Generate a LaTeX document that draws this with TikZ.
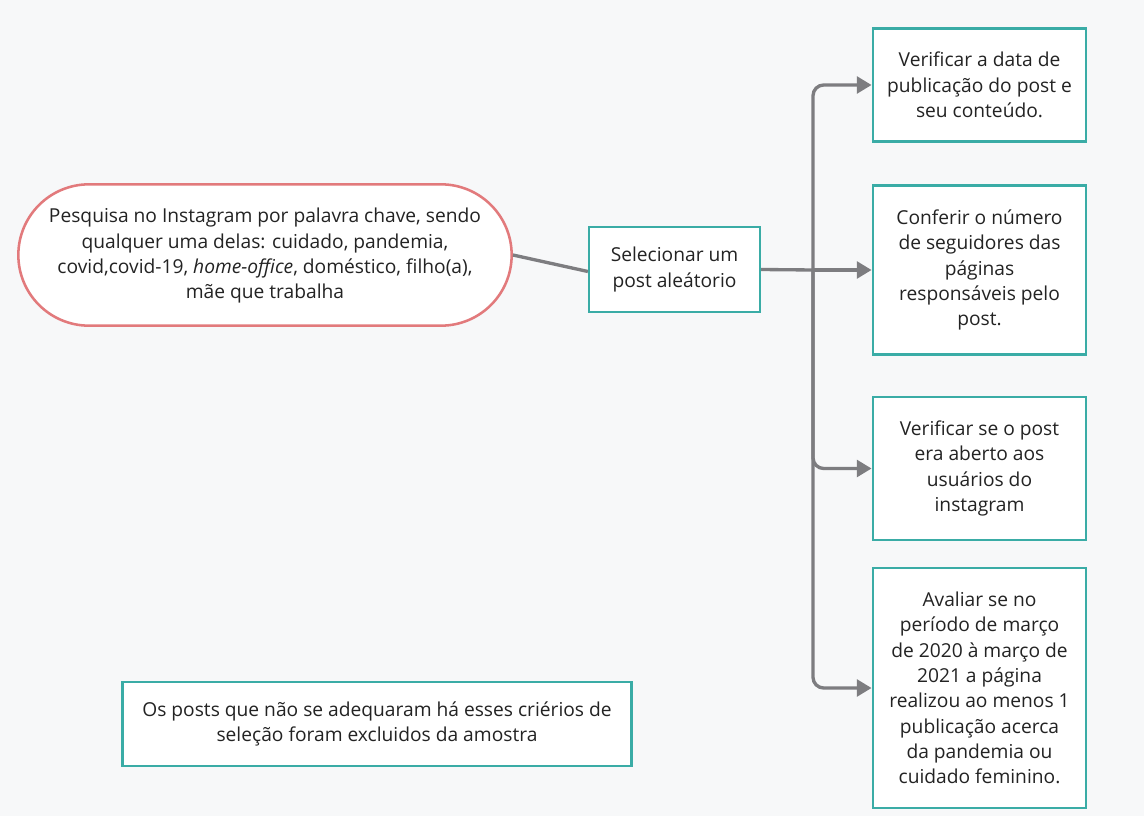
\documentclass[tikz,border=0pt]{standalone}
\usepackage{fontspec}
\setmainfont{Open Sans}
\usetikzlibrary{arrows.meta}
\definecolor{bgc}{RGB}{247,248,249}
\definecolor{teal1}{RGB}{58,172,166}
\definecolor{red1}{RGB}{226,122,124}
\definecolor{conn}{RGB}{125,125,128}
\definecolor{txt}{RGB}{35,35,35}
\tikzset{
  box/.style={draw=teal1, line width=1.9pt, fill=white, inner sep=0pt, align=center, text=txt,
    font=\fontsize{14.4pt}{19pt}\selectfont},
  pill/.style={draw=red1, line width=1.9pt, fill=white, inner sep=0pt, align=center, text=txt,
    rounded corners=53pt, font=\fontsize{14.4pt}{19pt}\selectfont},
  link/.style={draw=conn, line width=2.5pt},
  arr/.style={link, -{Triangle[length=11pt,width=12.5pt]}, rounded corners=8pt},
}
\begin{document}
\begin{tikzpicture}[x=0.75pt,y=-0.75pt]
\useasboundingbox (0,0) rectangle (1144,816);
\fill[bgc] (0,0) rectangle (1144,816);
\node[pill, minimum width=370pt, minimum height=106pt, text depth=2pt] (ell) at (265,255)
  {Pesquisa no Instagram por palavra chave, sendo\\qualquer uma delas: cuidado, pandemia,\\covid,covid-19, \textit{home-office}, doméstico, filho(a),\\mãe que trabalha};
\node[box, minimum width=128pt, minimum height=64pt] (sel) at (674.5,269.5)
  {Selecionar um\\post aleátorio};
\node[box, minimum width=160pt, minimum height=85pt] (b1) at (979.5,85)
  {Verificar a data de\\publicação do post e\\seu conteúdo.};
\node[box, minimum width=160pt, minimum height=127pt] (b2) at (979.5,270)
  {Conferir o número\\de seguidores das\\páginas\\responsáveis pelo\\post.};
\node[box, minimum width=160pt, minimum height=107pt] (b3) at (979.5,468.5)
  {Verificar se o post\\era aberto aos\\usuários do\\instagram};
\node[box, minimum width=160pt, minimum height=180pt] (b4) at (979.5,688)
  {Avaliar se no\\período de março\\de 2020 à março de\\2021 a página\\realizou ao menos 1\\publicação acerca\\da pandemia ou\\cuidado feminino.};
\node[box, minimum width=382pt, minimum height=63pt] (bot) at (377,724)
  {Os posts que não se adequaram há esses criérios de\\seleção foram excluidos da amostra};
\coordinate (j) at (813,270);
\draw[link] (ell.east) -- ([yshift=-1.5pt]sel.west);
\draw[link] (sel.east) -- (j);
\draw[arr] (j) |- (b1.west);
\draw[arr] (j) -- (b2.west);
\draw[arr] (j) |- (b3.west);
\draw[arr] (j) |- (b4.west);
\end{tikzpicture}
\end{document}
